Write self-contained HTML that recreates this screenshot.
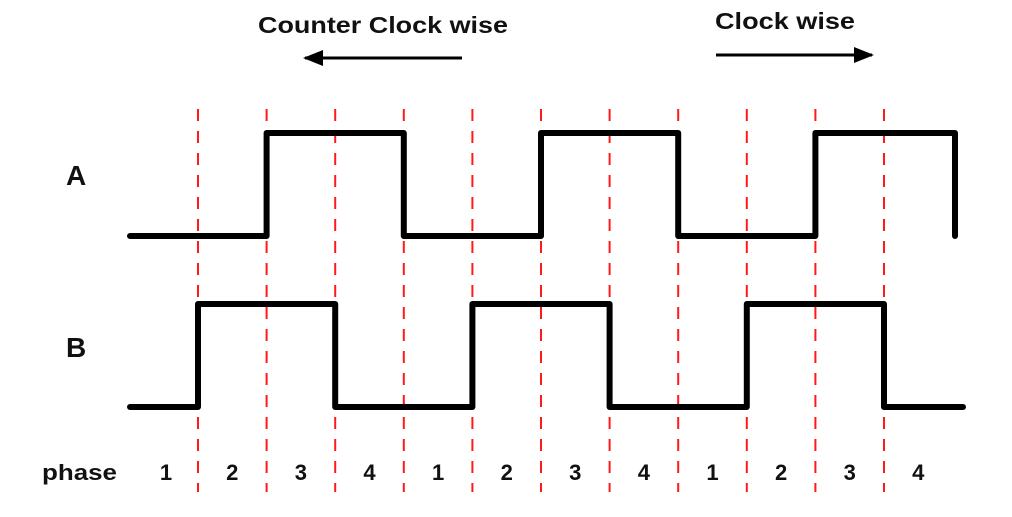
<!DOCTYPE html>
<html><head><meta charset="utf-8"><style>
body{margin:0;background:#fff;width:1012px;height:517px;overflow:hidden}
svg{display:block}
text{font-family:"Liberation Sans",Arial,sans-serif;font-weight:bold;fill:#111}
</style></head><body>
<svg id="chart" width="1012" height="517">
<defs><marker id="ah" markerWidth="20" markerHeight="16" refX="18" refY="8" orient="auto" markerUnits="userSpaceOnUse" viewBox="0 0 20 16"><path d="M0,0 L20,8 L0,16 Z" fill="#000"/></marker></defs>
<text x="258" y="33" font-size="23" textLength="250" lengthAdjust="spacingAndGlyphs">Counter Clock  wise</text>
<line x1="462" y1="58" x2="305" y2="58" stroke="#000" stroke-width="3" marker-end="url(#ah)"/>
<text x="715" y="29" font-size="23" textLength="140" lengthAdjust="spacingAndGlyphs">Clock  wise</text>
<line x1="716" y1="55" x2="872" y2="55" stroke="#000" stroke-width="3" marker-end="url(#ah)"/>
<text x="66" y="185" font-size="28">A</text>
<text x="66" y="357" font-size="28">B</text>
<text x="42" y="480" font-size="22" textLength="75" lengthAdjust="spacingAndGlyphs">phase</text>
<g id="g"></g>
</svg>
<script>
const phases = ["1","2","3","4","1","2","3","4","1","2","3","4"];
const seriesA = [0,0,1,1,0,0,1,1,0,0,1,1];
const seriesB = [0,1,1,0,0,1,1,0,0,1,1,0];
const NS="http://www.w3.org/2000/svg";
const g=document.getElementById('g');
const x0=130, first=198, step=68.6;
const xb=i=>i===0?x0:first+(i-1)*step;
function mk(t,a){const e=document.createElementNS(NS,t);for(const k in a)e.setAttribute(k,a[k]);g.appendChild(e);return e;}
for(let i=1;i<phases.length;i++){
  const l=mk('line',{x1:xb(i),x2:xb(i),y1:109,y2:492,stroke:'#ff1a1a','stroke-width':2,'stroke-dasharray':'12 10'});
  
  
}
function wave(vals,yLow,yHigh,endX,dropEnd,name){
  const y=v=>v?yHigh:yLow;
  let d='M'+x0+','+y(vals[0]);
  for(let i=1;i<vals.length;i++){
    d+=' L'+xb(i)+','+y(vals[i-1]);
    if(vals[i]!==vals[i-1]) d+=' L'+xb(i)+','+y(vals[i]);
  }
  d+=' L'+endX+','+y(vals[vals.length-1]);
  if(dropEnd) d+=' L'+endX+','+yLow;
  const p=mk('path',{d:d,fill:'none',stroke:'#000','stroke-width':6,'stroke-linecap':'round','stroke-linejoin':'round'});
  
  
}
wave(seriesA,236,133,955,true,'signal-a-wave');
wave(seriesB,407,304,963,false,'signal-b-wave');
phases.forEach((p,i)=>{
  const cx=i===0?166:xb(i)+step/2;
  const t=mk('text',{x:cx,y:480,'font-size':22,'text-anchor':'middle'});
  t.textContent=p;
  
  
});
</script>
</body></html>
